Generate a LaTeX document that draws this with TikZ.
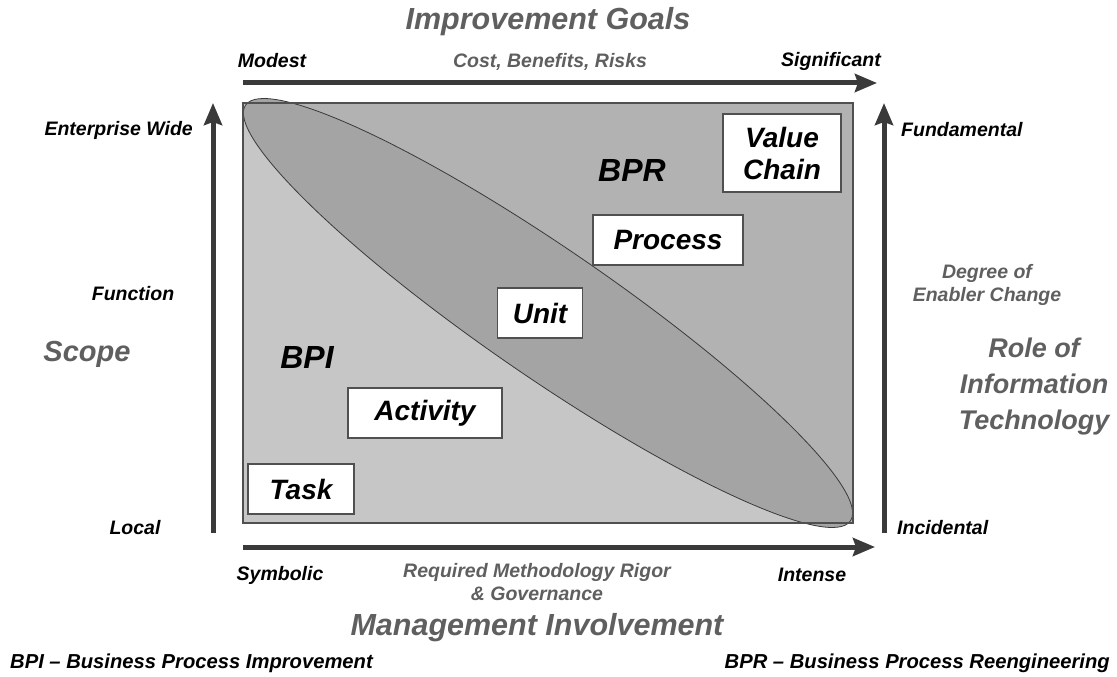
\documentclass[tikz,border=0pt]{standalone}
\usepackage{fontspec}
\setmainfont{Liberation Sans}
\usetikzlibrary{arrows.meta}

\begin{document}
\begin{tikzpicture}[x=1pt, y=-1pt,
    lbl/.style={font=\fontsize{19.5}{23}\selectfont\bfseries\itshape,
        inner sep=0},
    sublbl/.style={lbl, text=text-grey, align=center},
    heading/.style={font=\fontsize{30.5}{36}\selectfont\bfseries\itshape,
        text=text-grey, inner sep=0, align=center},
    tag/.style={rectangle, draw=edge-grey, fill=white, line width=1.2pt,
        inner sep=0, align=center,
        font=\fontsize{28}{32}\selectfont\bfseries\itshape},
    axis/.style={line width=5pt, draw=axis-grey,
        -{Stealth[length=22pt, width=18pt, inset=3pt]}}]
    % Definitions
    \definecolor{text-grey}{RGB}{95, 95, 95}
    \definecolor{axis-grey}{RGB}{58, 58, 58}
    \definecolor{edge-grey}{RGB}{80, 80, 80}
    \definecolor{light-tone}{RGB}{198, 198, 198}
    \definecolor{dark-tone}{RGB}{178, 178, 178}
    \definecolor{oval-tone}{RGB}{164, 164, 164}

    \useasboundingbox (0,0) rectangle (1117,677);

    % Field
    \fill[light-tone] (243,103) -- (243,523) -- (853,523) -- cycle;
    \fill[dark-tone] (243,103) -- (853,103) -- (853,523) -- cycle;
    \draw[fill=oval-tone, draw=axis-grey, line width=0.8pt,
          rotate around={-34.5:(548,313)}]
        (548,313) ellipse [x radius=367pt, y radius=64pt];
    \draw[edge-grey, line width=1.2pt] (243,103) rectangle (853,523);

    % Boxes
    \node[tag, minimum width=118pt, minimum height=78pt]
        (chain) at (782,153) {Value\\Chain};
    \node[tag, minimum width=150pt, minimum height=50pt]
        (process) at (668,240) {Process};
    \node[tag, minimum width=85pt, minimum height=50pt]
        (unit) at (540,313) {Unit};
    \node[tag, minimum width=154pt, minimum height=50pt]
        (activity) at (425,413) {Activity};
    \node[tag, minimum width=106pt, minimum height=50pt]
        (task) at (301,489) {Task};
    \node[font=\fontsize{32}{36}\selectfont\bfseries\itshape]
        (bpr) at (632,170) {BPR};
    \node[font=\fontsize{32}{36}\selectfont\bfseries\itshape]
        (bpi) at (307,357) {BPI};

    % Axes
    \coordinate (top-from) at (243,83);
    \coordinate (top-to) at (877,83);
    \coordinate (bot-from) at (243,547);
    \coordinate (bot-to) at (875,547);
    \coordinate (left-from) at (213,533);
    \coordinate (left-to) at (213,103);
    \coordinate (right-from) at (884,533);
    \coordinate (right-to) at (884,103);
    \draw[axis] (top-from) -- (top-to);
    \draw[axis] (bot-from) -- (bot-to);
    \draw[axis] (left-from) -- (left-to);
    \draw[axis] (right-from) -- (right-to);

    % Top
    \node[heading] (goals) at (548,22) {Improvement Goals};
    \node[lbl] (modest) at (272,61) {Modest};
    \node[sublbl] (cost) at (550,62) {Cost, Benefits, Risks};
    \node[lbl] (significant) at (831,61) {Significant};

    % Left
    \node[lbl, anchor=east] (wide) at (193,130) {Enterprise Wide};
    \node[lbl] (function) at (133,294) {Function};
    \node[heading, font=\fontsize{29}{36}\selectfont\bfseries\itshape]
        (scope) at (87,354) {Scope};
    \node[lbl] (local) at (135,528) {Local};

    % Right
    \node[lbl, anchor=west] (fundamental) at (901,130) {Fundamental};
    \node[sublbl] (enabler) at (987,285) {Degree of\\Enabler Change};
    \node[heading, font=\fontsize{27}{36}\selectfont\bfseries\itshape]
        (role) at (1034,387) {Role of\\Information\\Technology};
    \node[lbl, anchor=west] (incidental) at (897,528) {Incidental};

    % Bottom
    \node[lbl] (symbolic) at (280,575) {Symbolic};
    \node[sublbl] (rigor) at (537,582) {Required Methodology Rigor\\\& Governance};
    \node[lbl] (intense) at (812,575) {Intense};
    \node[heading] (management) at (537,628) {Management Involvement};
    \node[lbl, font=\fontsize{20.2}{23}\selectfont\bfseries\itshape,
          anchor=west] (bpi-key) at (10,663)
        {BPI -- Business Process Improvement};
    \node[lbl, font=\fontsize{20.2}{23}\selectfont\bfseries\itshape,
          anchor=east] (bpr-key) at (1110,663)
        {BPR -- Business Process Reengineering};
\end{tikzpicture}
\end{document}
